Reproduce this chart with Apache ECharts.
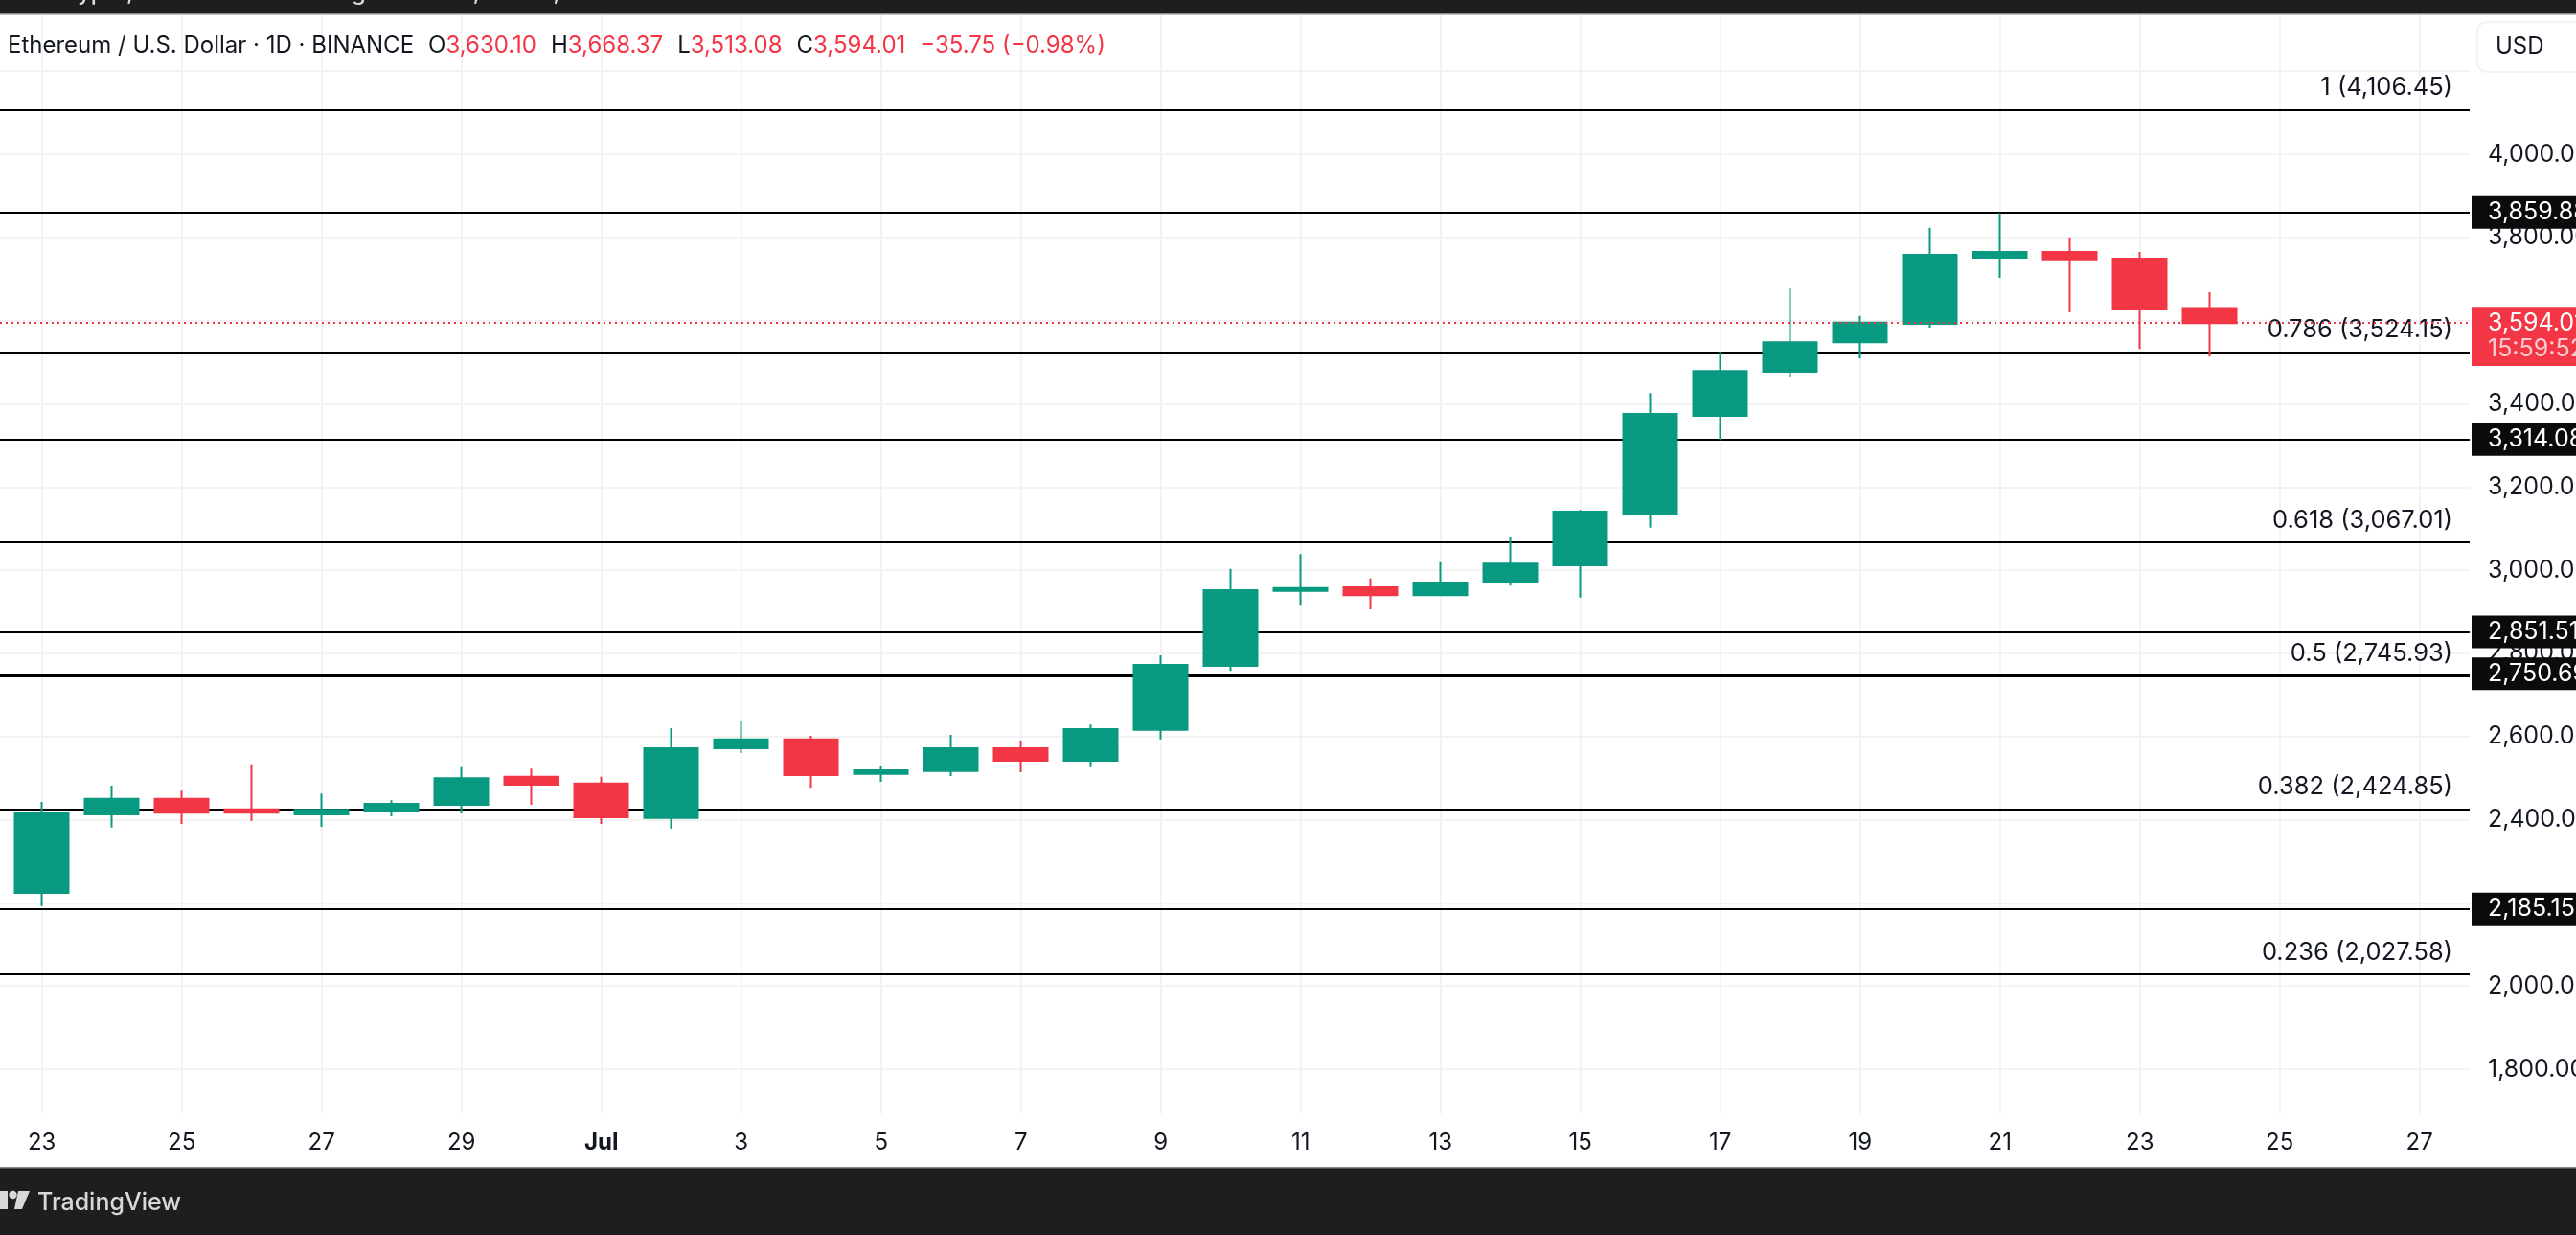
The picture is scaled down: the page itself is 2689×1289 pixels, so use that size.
<!DOCTYPE html>
<html>
  <head>
    <meta charset="utf-8" />
    <title>ETH/USD</title>
    <script src="https://cdn.jsdelivr.net/npm/echarts@6/dist/echarts.min.js"></script>
    <style>
      html, body { margin: 0; padding: 0; background: #fff; overflow: hidden; }
    </style>
  </head>
  <body>
    <div id="main" style="width: 2689px; height: 1289px"></div>
    <script type="text/javascript">
      // daily candles, 23 Jun - 24 Jul 2024
      const days = ['Jun 23', 'Jun 24', 'Jun 25', 'Jun 26', 'Jun 27', 'Jun 28', 'Jun 29', 'Jun 30', 'Jul 1', 'Jul 2', 'Jul 3', 'Jul 4', 'Jul 5', 'Jul 6', 'Jul 7', 'Jul 8', 'Jul 9', 'Jul 10', 'Jul 11', 'Jul 12', 'Jul 13', 'Jul 14', 'Jul 15', 'Jul 16', 'Jul 17', 'Jul 18', 'Jul 19', 'Jul 20', 'Jul 21', 'Jul 22', 'Jul 23', 'Jul 24'];
      const opens = [2224, 2413, 2450, 2425, 2413, 2422, 2436, 2503, 2487, 2404, 2572, 2593, 2510, 2517, 2572, 2542, 2616, 2770, 2950, 2959, 2940, 2970, 3012, 3136, 3371, 3477, 3548, 3592, 3751, 3765, 3749, 3630.1];
      const closes = [2415, 2450, 2417, 2417, 2424, 2438, 2500, 2484, 2406, 2572, 2593, 2507, 2519, 2572, 2542, 2618, 2772, 2952, 2957, 2940, 2970, 3016, 3141, 3376, 3479, 3548, 3595, 3758, 3765, 3747, 3627, 3594.01];
      const lows = [2192, 2381, 2390, 2397, 2383, 2408, 2415, 2436, 2390, 2378, 2560, 2477, 2491, 2505, 2514, 2526, 2593, 2758, 2917, 2906, 2938, 2963, 2934, 3102, 3313, 3463, 3509, 3583, 3703, 3620, 3532, 3513.08];
      const highs = [2443, 2482, 2470, 2533, 2463, 2447, 2526, 2523, 2503, 2620, 2636, 2602, 2530, 2604, 2590, 2629, 2795, 3003, 3039, 2980, 3019, 3081, 3145, 3426, 3525, 3677, 3611, 3823, 3859, 3800, 3765, 3668.37];

      const xTicks = [0, 2, 4, 6, 8, 10, 12, 14, 16, 18, 20, 22, 24, 26, 28, 30, 32, 34];
      const xTickLabels = ['23', '25', '27', '29', 'Jul', '3', '5', '7', '9', '11', '13', '15', '17', '19', '21', '23', '25', '27'];
      const yTicks = [1800, 2000, 2200, 2400, 2600, 2800, 3000, 3200, 3400, 3600, 3800, 4000, 4200];
      const yTickLabels = ['1,800.00', '2,000.00', '', '2,400.00', '2,600.00', '2,800.00', '3,000.00', '3,200.00', '3,400.00', '', '3,800.00', '4,000.00', ''];

      const fibLevels = ['1', '0.786', '0.618', '0.5', '0.382', '0.236'];
      const fibPrices = [4106.45, 3524.15, 3067.01, 2745.93, 2424.85, 2027.58];
      const levelPrices = [3859.88, 3314.08, 2851.51, 2750.69, 2185.15];
      const lastPrice = 3594.01;

      const fontName = 'Inter';
      const labelSize = 25.5;
      const axisSize = 25;
      const fmt = (v) => v.toLocaleString('en-US', { minimumFractionDigits: 2, maximumFractionDigits: 2 });

      const candles = days.map((d, i) => [i, opens[i], closes[i], lows[i], highs[i]]);
      const fibLines = fibPrices.map((p, i) => ({
        yAxis: p,
        label: { show: true, formatter: fibLevels[i] + ' (' + fmt(p) + ')' }
      }));
      const levelLines = levelPrices.map((p) => ({ yAxis: p, label: { show: false } }));

      const chartDom = document.getElementById('main');
      const myChart = echarts.init(chartDom);
      const option = {
        animation: false,
        backgroundColor: '#fff',
        textStyle: { fontFamily: fontName },
        grid: { left: 0, top: 15, width: 2578, height: 1147.7, outerBoundsMode: 'none' },
        xAxis: {
          type: 'value',
          min: -0.5986,
          max: 34.716,
          axisLine: { show: false },
          axisTick: { show: false, customValues: xTicks },
          splitLine: { show: true, lineStyle: { color: '#f3f3f4', width: 2 } },
          axisLabel: {
            customValues: xTicks,
            margin: 18,
            color: '#131722',
            fontSize: 24,
            fontFamily: fontName,
            formatter: function (v) {
              const t = xTickLabels[xTicks.indexOf(v)];
              return t === 'Jul' ? '{b|Jul}' : t;
            },
            rich: { b: { fontWeight: 700, fontSize: 24, fontFamily: fontName, color: '#131722' } }
          }
        },
        yAxis: [
          {
            type: 'value',
            position: 'right',
            min: 1692.5,
            max: 4336.3,
            axisLine: { show: false },
            axisTick: { show: false, customValues: yTicks },
            splitLine: { show: true, lineStyle: { color: '#f3f3f4', width: 2 } },
            axisLabel: {
              customValues: yTicks,
              margin: 19,
              color: '#131722',
              fontSize: axisSize,
              fontFamily: fontName,
              formatter: function (v) {
                return yTickLabels[yTicks.indexOf(v)];
              }
            }
          },
          {
            // price tags on the right edge
            type: 'value',
            position: 'right',
            z: 10,
            min: 1692.5,
            max: 4336.3,
            axisLine: { show: false },
            axisTick: { show: false, customValues: levelPrices.concat([lastPrice]) },
            splitLine: { show: false },
            axisLabel: {
              customValues: levelPrices.concat([lastPrice]),
              margin: 2,
              fontSize: axisSize,
              fontFamily: fontName,
              formatter: function (v) {
                return (v === lastPrice ? '{now|' : '{tag|') + fmt(v) + '}';
              },
              rich: {
                tag: { backgroundColor: '#0b0b0d', color: '#fff', fontSize: axisSize, fontFamily: fontName, padding: [5, 30, 5, 17], height: 24, width: 110 },
                now: { backgroundColor: '#f23645', color: '#fff', fontSize: axisSize, fontFamily: fontName, padding: [5, 30, 5, 17], height: 24, width: 110 }
              }
            }
          }
        ],
        series: [
          {
            // fib and horizontal levels sit behind the candles
            type: 'line',
            data: [],
            z: 3,
            markLine: {
              silent: true,
              z: 3,
              symbol: 'none',
              animation: false,
              lineStyle: { color: '#000', width: 2, type: 'solid', opacity: 1 },
              label: {
                position: 'insideEndTop',
                distance: [18, 10],
                color: '#131722',
                fontSize: labelSize,
                fontFamily: fontName
              },
              emphasis: { disabled: true },
              data: fibLines.concat(levelLines)
            }
          },
          {
            type: 'candlestick',
            z: 5,
            barWidth: 56,
            encode: { x: 0, y: [1, 2, 3, 4] },
            itemStyle: {
              color: '#089981',
              color0: '#f23645',
              borderColor: '#089981',
              borderColor0: '#f23645',
              borderWidth: 2
            },
            data: candles,
            markLine: {
              silent: true,
              z: 7,
              symbol: 'none',
              animation: false,
              label: { show: false },
              lineStyle: { color: '#f23645', width: 2, type: [2, 4], opacity: 1 },
              data: [{ yAxis: lastPrice }]
            }
          }
        ],
        graphic: [
          { type: 'rect', z: 20, shape: { x: 0, y: 0, width: 2689, height: 15 }, style: { fill: '#1e1e1e' } },
          { type: 'rect', z: 20, shape: { x: 0, y: 14, width: 2689, height: 1.5 }, style: { fill: '#8a8a8a' } },
          { type: 'text', z: 21, x: 8, y: 5, style: { text: 'beincrypto, created with TradingView.com, Jul 24, 2024 13:00 UTC+0', fill: '#dcdcdc', font: '500 24px ' + fontName, textVerticalAlign: 'bottom' } },

          // legend row
          {
            type: 'text',
            z: 21,
            x: 8,
            y: 48,
            style: {
              text: '{k|Ethereum / U.S. Dollar · 1D · BINANCE}{s| }{k|O}{r|3,630.10}{s| }{k|H}{r|3,668.37}{s| }{k|L}{r|3,513.08}{s| }{k|C}{r|3,594.01}{s| }{r|−35.75 (−0.98%)}',
              verticalAlign: 'middle',
              rich: {
                k: { fill: '#131722', font: '24px ' + fontName },
                r: { fill: '#f23645', font: '24px ' + fontName },
                s: { width: 15, font: '24px ' + fontName }
              }
            }
          },

          // currency button
          { type: 'rect', z: 20, shape: { x: 2586, y: 23, width: 130, height: 52, r: 10 }, style: { fill: '#fff', stroke: '#f0f3fa', lineWidth: 2 } },
          { type: 'text', z: 21, x: 2605, y: 49, style: { text: 'USD', fill: '#131722', font: '24px ' + fontName, verticalAlign: 'middle' } },

          // countdown under the last price tag
          { type: 'rect', z: 20, shape: { x: 2580, y: 354, width: 109, height: 28 }, style: { fill: '#f23645' } },
          { type: 'text', z: 21, x: 2597, y: 364, style: { text: '15:59:52', fill: 'rgba(255,255,255,0.75)', font: axisSize + 'px ' + fontName, verticalAlign: 'middle' } },

          // footer
          { type: 'rect', z: 20, shape: { x: 0, y: 1218, width: 2689, height: 71 }, style: { fill: '#1e1e1e' } },
          { type: 'rect', z: 20, shape: { x: 0, y: 1218, width: 2689, height: 1.5 }, style: { fill: '#8a8a8a' } },
          { type: 'rect', z: 21, shape: { x: 0, y: 1243, width: 8, height: 19 }, style: { fill: '#d8d8d8' } },
          { type: 'circle', z: 21, shape: { cx: 13.5, cy: 1247, r: 4.2 }, style: { fill: '#d8d8d8' } },
          { type: 'polygon', z: 21, shape: { points: [[19, 1243], [31, 1243], [23, 1262], [15, 1262]] }, style: { fill: '#d8d8d8' } },
          { type: 'text', z: 21, x: 39, y: 1255, style: { text: 'TradingView', fill: '#d8d8d8', font: '500 25px ' + fontName, verticalAlign: 'middle' } }
        ]
      };

      option && myChart.setOption(option);
    </script>
  </body>
</html>
